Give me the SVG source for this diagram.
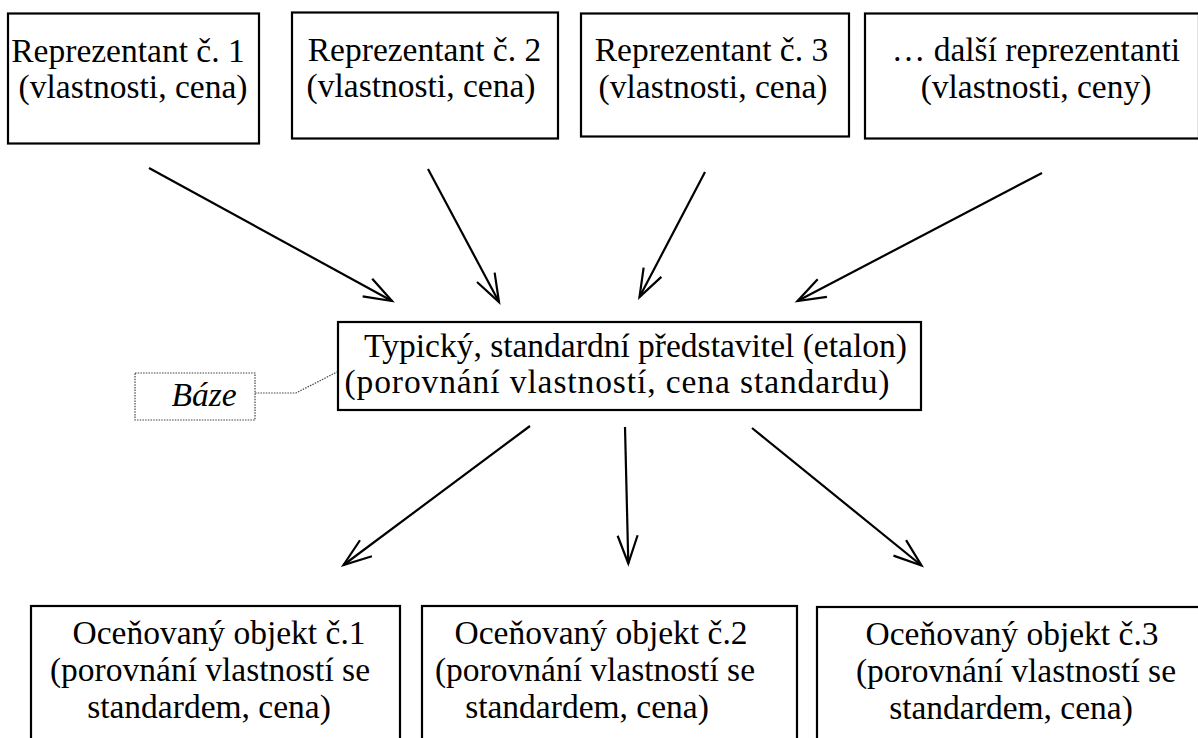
<svg xmlns="http://www.w3.org/2000/svg" width="1198" height="738" viewBox="0 0 1198 738">
<defs>
<style>
.box{fill:#fff;stroke:#000;stroke-width:2.2}
.t{font-size:33.5px;fill:#000;text-anchor:middle}
.it{font-style:italic}
.con{stroke:#000;stroke-width:2.2;fill:none;marker-end:url(#arr)}
.dot{fill:none;stroke:#444;stroke-width:1.2;stroke-dasharray:1.5 1.2}
</style>
<marker id="arr" markerUnits="userSpaceOnUse" markerWidth="40" markerHeight="30" viewBox="-34 -15 40 30" refX="0" refY="0" orient="auto">
<path d="M-28,-10 L0,0 L-28,10" fill="none" stroke="#000" stroke-width="2.2" stroke-linejoin="miter"/>
</marker>
</defs>
<rect width="1198" height="738" fill="#fff"/>
<g id="connectors">
<line class="con" x1="149" y1="168" x2="392" y2="301"/>
<line class="con" x1="428" y1="169" x2="499" y2="302"/>
<line class="con" x1="705" y1="172" x2="639.5" y2="297"/>
<line class="con" x1="1042" y1="173" x2="797.5" y2="301"/>
<line class="con" x1="530" y1="426" x2="343.5" y2="565"/>
<line class="con" x1="625" y1="427" x2="628.3" y2="563.5"/>
<line class="con" x1="752" y1="428" x2="921.5" y2="565.5"/>
<polyline class="dot" points="255,393 296,393 337,372"/>
</g>
<g id="rep1" font-family="'Liberation Serif', serif">
<rect class="box" x="8" y="13.5" width="251" height="130"/>
<text class="t" x="128" y="62">Reprezentant č. 1</text>
<text class="t" x="133" y="98">(vlastnosti, cena)</text>
</g>
<g id="rep2" font-family="'Liberation Serif', serif">
<rect class="box" x="292" y="12.5" width="266" height="126"/>
<text class="t" x="424.5" y="60.5">Reprezentant č. 2</text>
<text class="t" x="421" y="97">(vlastnosti, cena)</text>
</g>
<g id="rep3" font-family="'Liberation Serif', serif">
<rect class="box" x="581" y="13.5" width="268" height="123"/>
<text class="t" x="711.5" y="61">Reprezentant č. 3</text>
<text class="t" x="713" y="97.5">(vlastnosti, cena)</text>
</g>
<g id="rep4" font-family="'Liberation Serif', serif">
<rect class="box" x="865" y="13.5" width="334" height="125"/>
<text class="t" x="1036" y="61">… další reprezentanti</text>
<text class="t" x="1036" y="97.5">(vlastnosti, ceny)</text>
</g>
<g id="etalon" font-family="'Liberation Serif', serif">
<rect class="box" x="338" y="322" width="583" height="88"/>
<text class="t" x="635.5" y="357" font-size="33">Typický, standardní představitel (etalon)</text>
<text class="t" x="617" y="393" textLength="545" lengthAdjust="spacing">(porovnání vlastností, cena standardu)</text>
</g>
<g id="baze" font-family="'Liberation Serif', serif">
<rect class="dot" x="135" y="373" width="120" height="47"/>
<text class="t it" x="204" y="406">Báze</text>
</g>
<g id="obj1" font-family="'Liberation Serif', serif">
<rect class="box" x="31" y="606" width="369" height="145"/>
<text class="t" x="219" y="644">Oceňovaný objekt č.1</text>
<text class="t" x="210" y="681">(porovnání vlastností se</text>
<text class="t" x="209" y="718">standardem, cena)</text>
</g>
<g id="obj2" font-family="'Liberation Serif', serif">
<rect class="box" x="422" y="606" width="375" height="145"/>
<text class="t" x="601" y="644">Oceňovaný objekt č.2</text>
<text class="t" x="595" y="681">(porovnání vlastností se</text>
<text class="t" x="587" y="718">standardem, cena)</text>
</g>
<g id="obj3" font-family="'Liberation Serif', serif">
<rect class="box" x="817" y="607" width="384" height="145"/>
<text class="t" x="1012" y="645">Oceňovaný objekt č.3</text>
<text class="t" x="1016" y="682">(porovnání vlastností se</text>
<text class="t" x="1011" y="719">standardem, cena)</text>
</g>
</svg>
